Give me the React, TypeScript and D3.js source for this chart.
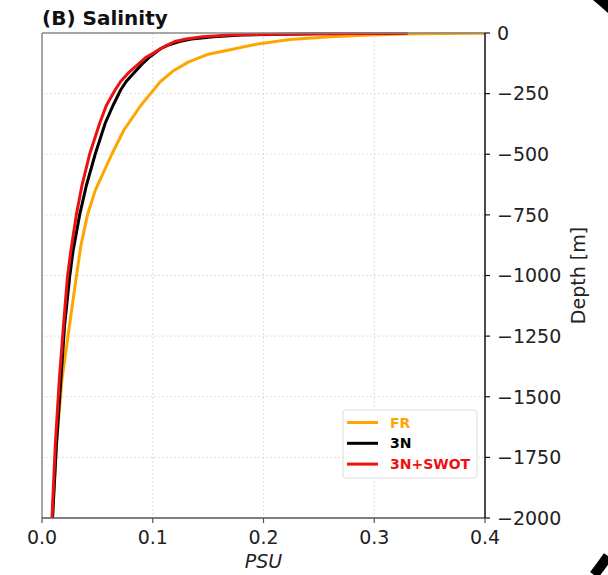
import React from "react";
import * as d3 from "d3";

const frDepth = [0, -2, -4, -9.5, -15, -27, -45, -69, -89, -120, -158, -200, -250, -300, -400, -500, -650, -750, -880, -1005, -1200, -1430, -1700, -2000];
const frValue = [0.42, 0.36, 0.326, 0.29, 0.26, 0.224, 0.195, 0.17, 0.149, 0.132, 0.118, 0.107, 0.098, 0.089, 0.074, 0.063, 0.048, 0.041, 0.035, 0.031, 0.025, 0.018, 0.013, 0.0095];

const n3Depth = [0, -3, -8, -15, -25, -35, -50, -65, -98, -125, -160, -200, -235, -300, -373, -500, -630, -750, -900, -1005, -1200, -1430, -1700, -2000];
const n3Value = [0.33, 0.25, 0.18, 0.155, 0.135, 0.124, 0.114, 0.107, 0.0975, 0.091, 0.084, 0.076, 0.071, 0.064, 0.057, 0.048, 0.04, 0.034, 0.028, 0.025, 0.0205, 0.017, 0.013, 0.0095];

const swDepth = [0, -3, -8, -15, -25, -35, -50, -65, -82, -100, -124, -160, -200, -235, -300, -373, -500, -630, -750, -900, -1005, -1200, -1430, -1700, -2000];
const swValue = [0.33, 0.25, 0.17, 0.145, 0.13, 0.12, 0.113, 0.107, 0.101, 0.094, 0.088, 0.079, 0.071, 0.066, 0.058, 0.052, 0.043, 0.036, 0.031, 0.026, 0.023, 0.0195, 0.0156, 0.012, 0.009];

const xTicks = [0.0, 0.1, 0.2, 0.3, 0.4];
const yTicks = [0, -250, -500, -750, -1000, -1250, -1500, -1750, -2000];

const seriesNames = ["FR", "3N", "3N+SWOT"];
const seriesColors = ["#ffa500", "#000000", "#ee1111"];

export default function App() {
  const left = 42, right = 485, top = 33, bottom = 518;
  const x = d3.scaleLinear().domain([0, 0.4]).range([left, right]);
  const y = d3.scaleLinear().domain([0, -2000]).range([top, bottom]);
  const line = d3.line<[number, number]>().x((d) => x(d[0])).y((d) => y(d[1]));
  const series = [
    frValue.map((v, i) => [v, frDepth[i]] as [number, number]),
    n3Value.map((v, i) => [v, n3Depth[i]] as [number, number]),
    swValue.map((v, i) => [v, swDepth[i]] as [number, number]),
  ];
  const font = "DejaVu Sans, sans-serif";
  const fmtY = (v: number) => (v < 0 ? "\u2212" + Math.abs(v) : String(v));

  const r = 369;

  return (
    <svg width={608} height={575} style={{ position: "absolute", left: 0, top: 0, background: "#fff" }} fontFamily={font}>
      <defs>
        <clipPath id="plotclip">
          <rect x={left} y={top - 1} width={right - left} height={bottom - top + 1} />
        </clipPath>
      </defs>
      <rect x={0} y={0} width={608} height={575} fill="#fff" />
      {xTicks.slice(1, -1).map((t) => (
        <line key={"gx" + t} x1={x(t)} x2={x(t)} y1={top} y2={bottom} stroke="#d4d4d4" strokeWidth={1} strokeDasharray="1.5,2.5" />
      ))}
      {yTicks.slice(1, -1).map((t) => (
        <line key={"gy" + t} x1={left} x2={right} y1={y(t)} y2={y(t)} stroke="#d4d4d4" strokeWidth={1} strokeDasharray="1.5,2.5" />
      ))}
      <g clipPath="url(#plotclip)">
        {series.map((s, i) => (
          <path key={i} d={line(s) || ""} fill="none" stroke={seriesColors[i]} strokeWidth={3} strokeLinejoin="round" />
        ))}
      </g>
      <line x1={left} x2={left} y1={top} y2={bottom} stroke="#888" strokeWidth={1.5} />
      <line x1={left} x2={right} y1={top} y2={top} stroke="#888" strokeWidth={1.5} />
      <line x1={left} x2={right} y1={bottom} y2={bottom} stroke="#555" strokeWidth={1.5} />
      <line x1={right} x2={right} y1={top} y2={bottom} stroke="#111" strokeWidth={1.5} />
      {xTicks.map((t) => (
        <g key={"xt" + t}>
          <line x1={x(t)} x2={x(t)} y1={bottom} y2={bottom + 5} stroke="#555" strokeWidth={1.2} />
          <text x={x(t)} y={544} textAnchor="middle" fontSize={19} fill="#222">{t.toFixed(1)}</text>
        </g>
      ))}
      <text x={(left + right) / 2} y={568} textAnchor="middle" fontSize={19} fontStyle="italic" fill="#222">PSU</text>
      {yTicks.map((t) => (
        <g key={"yt" + t}>
          <line x1={right} x2={right + 5} y1={y(t)} y2={y(t)} stroke="#111" strokeWidth={1.2} />
          <text x={right + 12} y={y(t)} dy="0.36em" fontSize={19} fill="#222">{fmtY(t)}</text>
        </g>
      ))}
      <text transform={`translate(578,${(top + bottom) / 2}) rotate(-90)`} textAnchor="middle" dy="0.36em" fontSize={19} fill="#222">Depth [m]</text>
      <text x={left} y={25} fontSize={20} fontWeight="bold" fill="#111">(B) Salinity</text>
      <rect x={343} y={410} width={134} height={68} rx={3} fill="#fff" fillOpacity={0.85} stroke="#ddd" strokeWidth={1} />
      {seriesNames.map((n, i) => (
        <g key={n}>
          <line x1={347} x2={378} y1={422.5 + i * 20.8} y2={422.5 + i * 20.8} stroke={seriesColors[i]} strokeWidth={3} />
          <text x={390} y={422.5 + i * 20.8} dy="0.36em" fontSize={14} fontWeight="bold" fill={seriesColors[i]}>{n}</text>
        </g>
      ))}
      <path d={`M593,0 A${r},${r} 0 0 1 608,13 L608,0 Z`} fill="#000" />
      <path d={`M608,556 A${r},${r} 0 0 1 594,575`} fill="none" stroke="#000" strokeWidth={10} />
    </svg>
  );
}
